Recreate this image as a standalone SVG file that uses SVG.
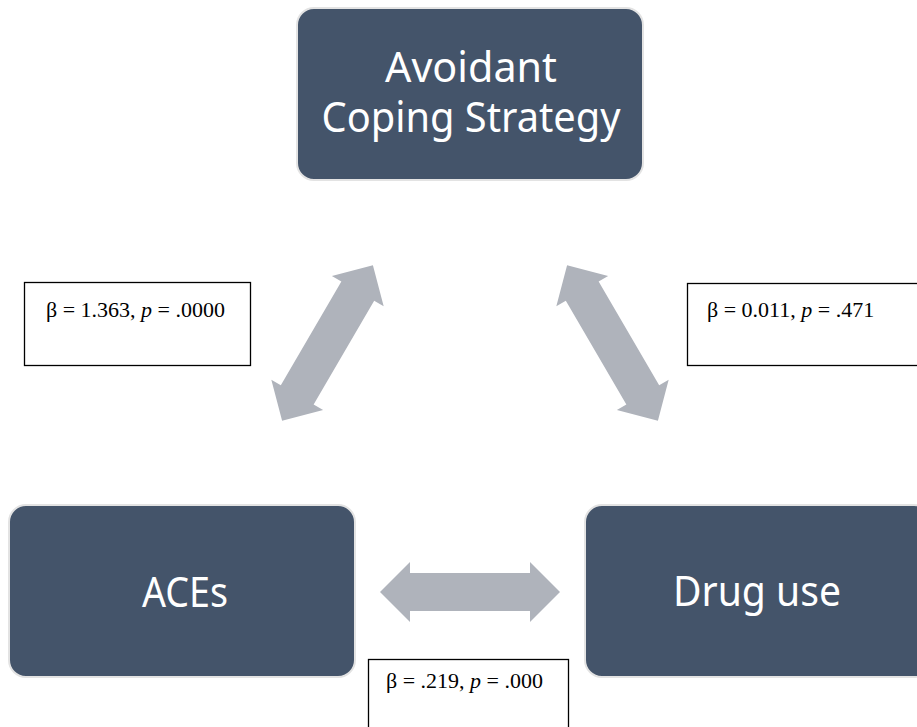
<svg xmlns="http://www.w3.org/2000/svg" width="917" height="727" viewBox="0 0 917 727">
<defs>
<style>
.node rect{fill:#44546A;stroke:#E3E3E3;stroke-width:2}
.node text{fill:#FFFFFF;font-family:"Noto Sans","Open Sans",sans-serif;font-size:42px;text-anchor:middle}
.arrow{fill:#AFB3BB}
.lbl rect{fill:#FFFFFF;stroke:#000000;stroke-width:1.3}
.lbl text{fill:#000000;font-family:"Liberation Serif","Times New Roman",serif;font-size:22px}
</style>
<polygon id="dbl" points="-90,0 -60,-30 -60,-19 60,-19 60,-30 90,0 60,30 60,19 -60,19 -60,30"/>
</defs>
<rect width="917" height="727" fill="#FFFFFF"/>
<g id="connectors">
<use href="#dbl" class="arrow" transform="translate(470,592)"/>
<use href="#dbl" class="arrow" transform="translate(327.5,343) rotate(-59.7)"/>
<use href="#dbl" class="arrow" transform="translate(612.5,343) rotate(59.7)"/>
</g>
<g id="node-avoidant" class="node">
<rect x="297" y="8" width="346" height="172" rx="17"/>
<text font-size="41"><tspan x="471" y="82" textLength="172" lengthAdjust="spacingAndGlyphs">Avoidant</tspan><tspan x="471" y="132" textLength="299" lengthAdjust="spacingAndGlyphs">Coping Strategy</tspan></text>
</g>
<g id="node-aces" class="node">
<rect x="9" y="505" width="346" height="172" rx="17"/>
<text x="185" y="607" textLength="86" lengthAdjust="spacingAndGlyphs">ACEs</text>
</g>
<g id="node-drug" class="node">
<rect x="585" y="505" width="346" height="172" rx="17"/>
<text x="757" y="606" textLength="168" lengthAdjust="spacingAndGlyphs">Drug use</text>
</g>
<g id="label-left" class="lbl">
<rect x="24.5" y="282.5" width="226" height="83"/>
<text x="46" y="317">β = 1.363, <tspan font-style="italic">p</tspan> = .0000</text>
</g>
<g id="label-right" class="lbl">
<rect x="687.5" y="283.5" width="240" height="82"/>
<text x="707" y="317">β = 0.011, <tspan font-style="italic">p</tspan> = .471</text>
</g>
<g id="label-bottom" class="lbl">
<rect x="368.5" y="659.5" width="200" height="80"/>
<text x="386" y="688">β = .219, <tspan font-style="italic">p</tspan> = .000</text>
</g>
</svg>
